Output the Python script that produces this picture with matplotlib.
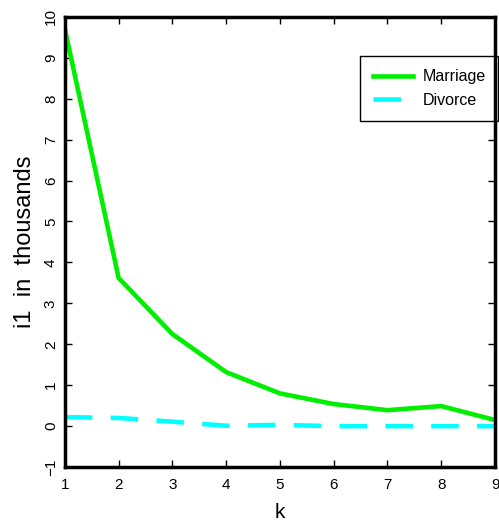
import numpy as np
import matplotlib
matplotlib.use('Agg')
import matplotlib.pyplot as plt

k = [1, 2, 3, 4, 5, 6, 7, 8, 9]
marriage = [9.7, 3.62, 2.25, 1.32, 0.80, 0.54, 0.39, 0.49, 0.15]
divorce = [0.22, 0.20, 0.11, 0.01, 0.03, 0.0, 0.0, 0.0, 0.0]

plt.rcParams['font.family'] = ['Liberation Sans', 'DejaVu Sans']

fig = plt.figure(figsize=(4.99, 5.26), dpi=100)
ax = fig.add_axes([0.130, 0.112, 0.862, 0.856])

ax.plot(k, marriage, color='#00ee00', lw=3.3, label='Marriage')
ax.plot(k, divorce, color='cyan', lw=3.3, dashes=(6, 4), label='Divorce')

ax.set_xlim(1, 9)
ax.set_ylim(-1, 10)
ax.set_xticks(k)
ax.set_yticks(np.arange(-1, 11))
for s in ax.spines.values():
    s.set_linewidth(2.5)
ax.tick_params(direction='in', top=True, right=True, length=5, width=1,
               labelsize=11)
ax.tick_params(axis='x', pad=8)
ax.tick_params(axis='y', pad=5)
for lab in ax.get_yticklabels():
    lab.set_rotation(90)
    lab.set_va('center')

ax.set_xlabel('k', fontsize=15, labelpad=8)
ax.set_ylabel('i1  in  thousands', fontsize=17, labelpad=6)

leg = ax.legend(loc='upper right', bbox_to_anchor=(1.008, 0.912), borderaxespad=0,
                fancybox=False, edgecolor='black', framealpha=1, fontsize=11.5,
                handlelength=2.5, handletextpad=0.6, borderpad=0.8,
                labelspacing=0.55)
leg.get_frame().set_linewidth(1)
leg.set_zorder(2.4)

fig.savefig('out.png', dpi=100)
